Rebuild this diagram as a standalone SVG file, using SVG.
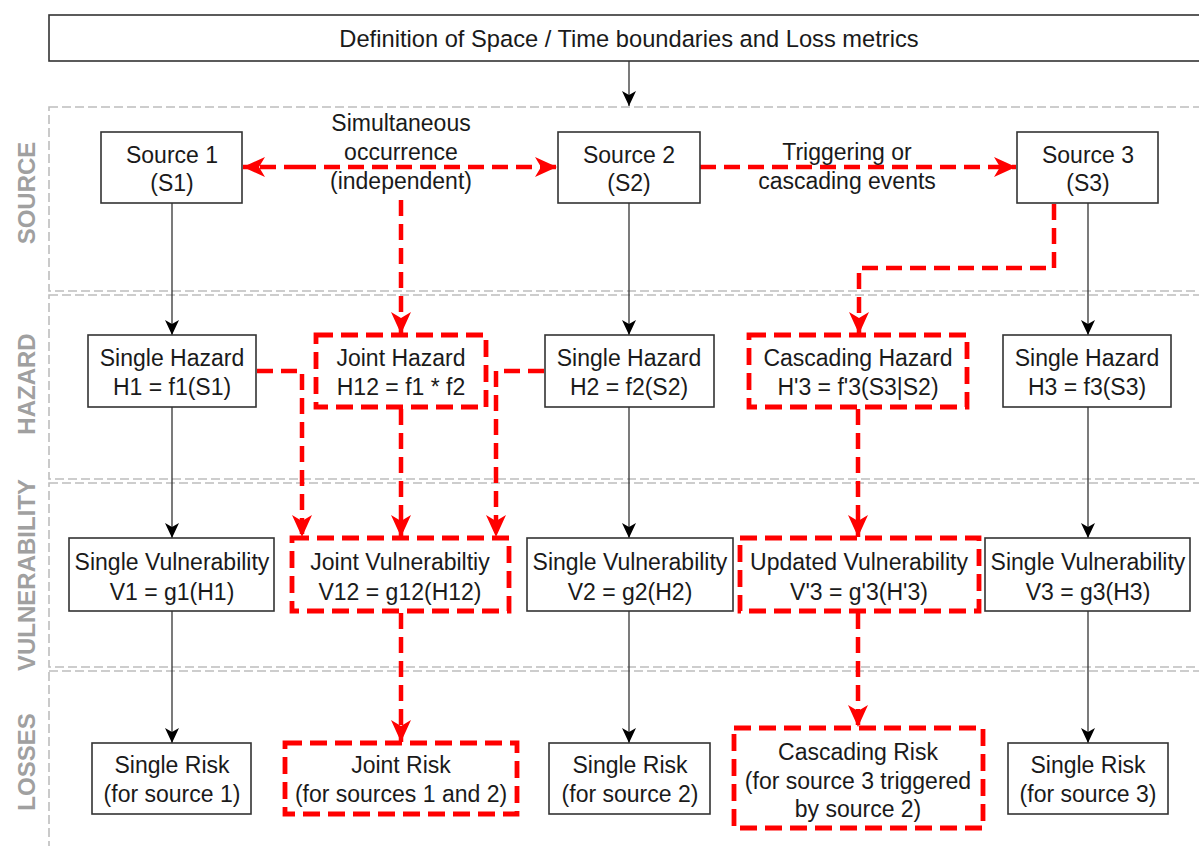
<svg xmlns="http://www.w3.org/2000/svg" width="1199" height="846" viewBox="0 0 1199 846">
<defs>
<style>
text{font-family:"Liberation Sans",Arial,sans-serif;font-size:23px;fill:#1a1a1a;text-anchor:middle}
.lbl{font-weight:bold;font-size:24px;fill:#a0a0a0}
.band{fill:none;stroke:#bdbdbd;stroke-width:1.6;stroke-dasharray:9 4}
.box{fill:#fff;stroke:#333;stroke-width:1.6}
.rbox{fill:#fff;stroke:#ff0000;stroke-width:4.8;stroke-dasharray:17 8}
.blk{fill:none;stroke:#333;stroke-width:1.3;marker-end:url(#ab)}
.red{fill:none;stroke:#ff0000;stroke-width:4.5;stroke-dasharray:16 8;marker-end:url(#ar)}
</style>
<marker id="ab" markerUnits="userSpaceOnUse" markerWidth="16" markerHeight="14" refX="15" refY="7" orient="auto">
<path d="M0,0 L15,7 L0,14 L4,7 Z" fill="#000"/>
</marker>
<marker id="ar" markerUnits="userSpaceOnUse" markerWidth="24" markerHeight="22" refX="22" refY="11" orient="auto">
<path d="M0,1 L22,11 L0,21 L6,11 Z" fill="#ff0000"/>
</marker>
</defs>

<g id="bands">
<rect class="band" x="49" y="107" width="1170" height="184"/>
<rect class="band" x="49" y="295" width="1170" height="184"/>
<rect class="band" x="49" y="483" width="1170" height="184"/>
<rect class="band" x="49" y="671" width="1170" height="200"/>
<text class="lbl" transform="translate(35,193) rotate(-90)">SOURCE</text>
<text class="lbl" transform="translate(35,384) rotate(-90)">HAZARD</text>
<text class="lbl" transform="translate(35,575) rotate(-90)">VULNERABILITY</text>
<text class="lbl" transform="translate(35,762) rotate(-90)">LOSSES</text>
</g>

<g id="connectors">
<line class="blk" x1="629" y1="61" x2="629" y2="106"/>
<line class="blk" x1="172" y1="203" x2="172" y2="335"/>
<line class="blk" x1="629" y1="203" x2="629" y2="335"/>
<line class="blk" x1="1088" y1="203" x2="1088" y2="335"/>
<line class="blk" x1="172" y1="407" x2="172" y2="538"/>
<line class="blk" x1="629" y1="407" x2="629" y2="538"/>
<line class="blk" x1="1088" y1="407" x2="1088" y2="538"/>
<line class="blk" x1="172" y1="611" x2="172" y2="743"/>
<line class="blk" x1="629" y1="611" x2="629" y2="743"/>
<line class="blk" x1="1088" y1="611" x2="1088" y2="743"/>
<line class="red" x1="300" y1="167" x2="243" y2="167"/>
<line class="red" x1="300" y1="167" x2="557" y2="167"/>
<line class="red" x1="700" y1="167" x2="1016" y2="167"/>
<line class="red" x1="401" y1="200" x2="401" y2="334"/>
<polyline class="red" points="1054,204 1054,268 859,268 859,334"/>
<polyline class="red" points="257,371 302,371 302,537"/>
<polyline class="red" points="544,371 496,371 496,537"/>
<line class="red" x1="401" y1="409" x2="401" y2="537"/>
<line class="red" x1="858" y1="409" x2="858" y2="537"/>
<line class="red" x1="401" y1="613" x2="401" y2="742"/>
<line class="red" x1="858" y1="613" x2="858" y2="727"/>
<text x="401" y="131">Simultaneous</text>
<text x="401" y="160">occurrence</text>
<text x="401" y="189">(independent)</text>
<text x="847" y="160">Triggering or</text>
<text x="847" y="189">cascading events</text>
</g>

<g id="top"><rect class="box" x="49" y="15" width="1170" height="46"/><text x="629" y="47" style="font-size:23.7px">Definition of Space / Time boundaries and Loss metrics</text></g>

<g id="s1"><rect class="box" x="101" y="132" width="141" height="71"/><text x="172" y="163">Source 1</text><text x="172" y="191">(S1)</text></g>
<g id="s2"><rect class="box" x="558" y="132" width="142" height="71"/><text x="629" y="163">Source 2</text><text x="629" y="191">(S2)</text></g>
<g id="s3"><rect class="box" x="1017" y="132" width="141" height="71"/><text x="1088" y="163">Source 3</text><text x="1088" y="191">(S3)</text></g>

<g id="h1"><rect class="box" x="88" y="335" width="168" height="72"/><text x="172" y="366">Single Hazard</text><text x="172" y="395">H1 = f1(S1)</text></g>
<g id="h12"><rect class="rbox" x="316" y="335" width="170" height="72"/><text x="401" y="366">Joint Hazard</text><text x="401" y="395">H12 = f1 * f2</text></g>
<g id="h2"><rect class="box" x="545" y="335" width="169" height="72"/><text x="629" y="366">Single Hazard</text><text x="629" y="395">H2 = f2(S2)</text></g>
<g id="h3c"><rect class="rbox" x="749" y="335" width="218" height="72"/><text x="858" y="366">Cascading Hazard</text><text x="858" y="395">H'3 = f'3(S3|S2)</text></g>
<g id="h3"><rect class="box" x="1003" y="335" width="168" height="72"/><text x="1087" y="366">Single Hazard</text><text x="1087" y="395">H3 = f3(S3)</text></g>

<g id="v1"><rect class="box" x="69" y="538" width="205" height="73"/><text x="172" y="570">Single Vulnerability</text><text x="172" y="600">V1 = g1(H1)</text></g>
<g id="v12"><rect class="rbox" x="292" y="538" width="217" height="73"/><text x="400" y="570">Joint Vulnerabiltiy</text><text x="400" y="600">V12 = g12(H12)</text></g>
<g id="v2"><rect class="box" x="527" y="538" width="206" height="73"/><text x="630" y="570">Single Vulnerability</text><text x="630" y="600">V2 = g2(H2)</text></g>
<g id="v3u"><rect class="rbox" x="740" y="538" width="239" height="73"/><text x="859" y="570">Updated Vulnerability</text><text x="859" y="600">V'3 = g'3(H'3)</text></g>
<g id="v3"><rect class="box" x="985" y="538" width="205" height="73"/><text x="1088" y="570">Single Vulnerability</text><text x="1088" y="600">V3 = g3(H3)</text></g>

<g id="r1"><rect class="box" x="92" y="743" width="159" height="71"/><text x="172" y="773">Single Risk</text><text x="172" y="802">(for source 1)</text></g>
<g id="r12"><rect class="rbox" x="285" y="743" width="232" height="71"/><text x="401" y="773">Joint Risk</text><text x="401" y="802">(for sources 1 and 2)</text></g>
<g id="r2"><rect class="box" x="549" y="743" width="161" height="71"/><text x="630" y="773">Single Risk</text><text x="630" y="802">(for source 2)</text></g>
<g id="r3c"><rect class="rbox" x="734" y="728" width="249" height="100"/><text x="858" y="760">Cascading Risk</text><text x="858" y="789">(for source 3 triggered</text><text x="858" y="817">by source 2)</text></g>
<g id="r3"><rect class="box" x="1008" y="743" width="160" height="71"/><text x="1088" y="773">Single Risk</text><text x="1088" y="802">(for source 3)</text></g>
</svg>
